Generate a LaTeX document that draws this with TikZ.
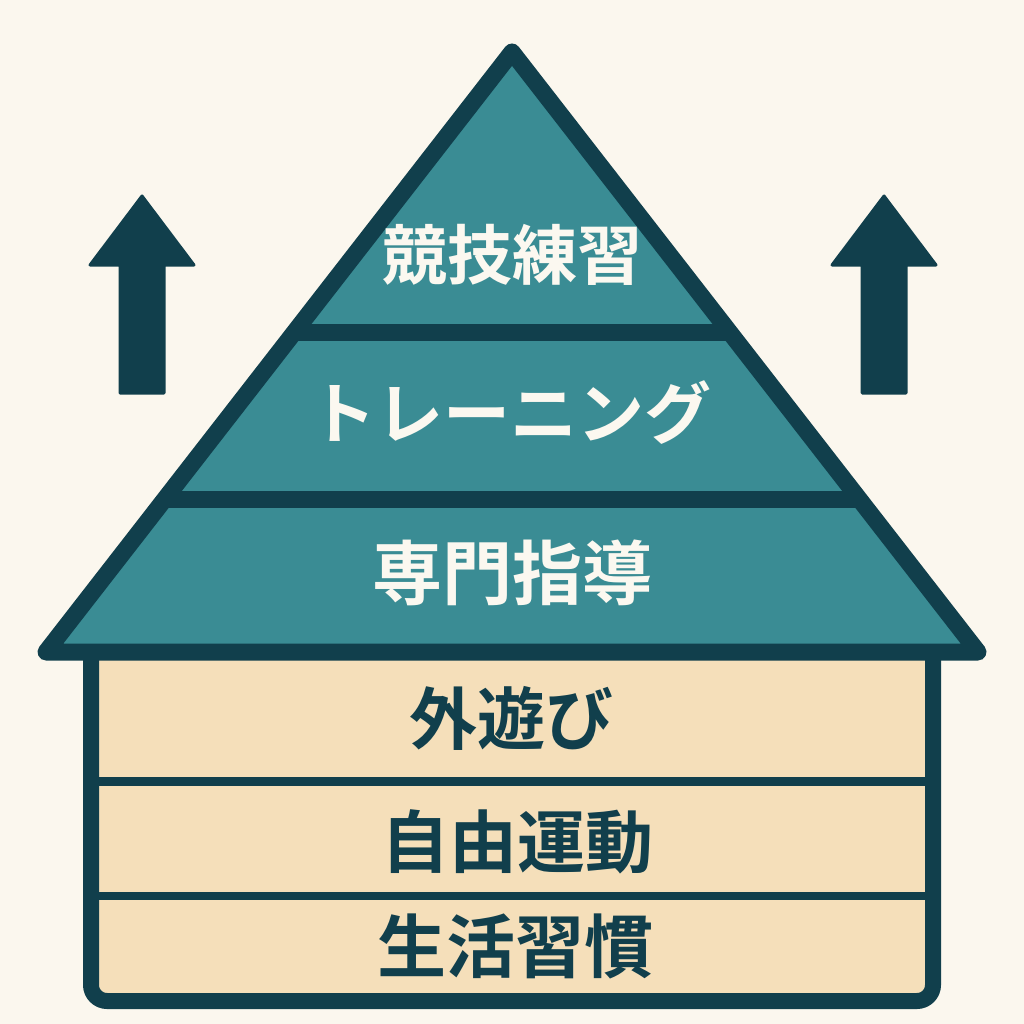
\documentclass[tikz,border=0pt]{standalone}
\usepackage{fontspec}
\newfontfamily\jp{Noto Sans CJK JP Bold}
\definecolor{bgc}{HTML}{FBF7EE}
\definecolor{ink}{HTML}{113F4C}
\definecolor{teal}{HTML}{3A8C94}
\definecolor{sand}{HTML}{F5DFBA}
\definecolor{wtext}{HTML}{FBF8F0}
\tikzset{
  roofline/.style={draw=ink,line width=17pt,line join=round,line cap=round},
  houseline/.style={draw=ink,line width=16pt,line join=round},
  floorline/.style={draw=ink,line width=9pt},
  uparrow/.style={fill=ink,draw=ink,line width=3pt,line join=round},
  rooftext/.style={text=wtext,font=\jp\fontsize{65}{65}\selectfont,inner sep=0pt},
  housetext/.style={text=ink,font=\jp\fontsize{68}{68}\selectfont,inner sep=0pt}
}
\begin{document}
\begin{tikzpicture}[x=1pt,y=-1pt]
\useasboundingbox (0,0) rectangle (1024,1024);
\fill[bgc] (0,0) rectangle (1024,1024);
% house body
\path[fill=sand] (91,652) -- (91,1001) -- (933,1001) -- (933,652) -- cycle;
\draw[floorline] (91,781) -- (933,781);
\draw[floorline,line width=8pt] (91,896) -- (933,896);
\draw[houseline,rounded corners=16pt] (91,652) -- (91,1001) -- (933,1001) -- (933,652);
% roof
\path[fill=teal,roofline] (46,652) -- (512,52) -- (978,652) -- cycle;
\draw[roofline,line cap=butt] (294,332) -- (730,332);
\draw[roofline,line cap=butt] (165,499) -- (859,499);
% arrows
\path[uparrow] (142,196) -- (194,265) -- (164,265) -- (164,393) -- (120,393) -- (120,265) -- (90,265) -- cycle;
\path[uparrow] (884,196) -- (936,265) -- (906,265) -- (906,393) -- (862,393) -- (862,265) -- (832,265) -- cycle;
% texts
\node[rooftext] (t1) at (512,255) {競技練習};
\node[rooftext,font=\jp\fontsize{67}{67}\selectfont] (t2) at (510,413) {トレーニング};
\node[rooftext,font=\jp\fontsize{70}{70}\selectfont] (t3) at (512,573) {専門指導};
\node[housetext] (h1) at (511,718) {外遊び};
\node[housetext] (h2) at (517,842) {自由運動};
\node[housetext,font=\jp\fontsize{69}{69}\selectfont] (h3) at (515,946) {生活習慣};
\end{tikzpicture}
\end{document}
